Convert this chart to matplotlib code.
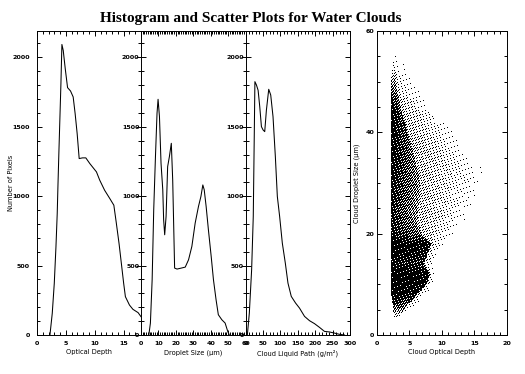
import numpy as np
import matplotlib
matplotlib.use("Agg")
from matplotlib import pyplot as plt
from matplotlib.ticker import MultipleLocator

# histogram of optical depth
tau_x = [2.24, 2.64, 2.99, 3.28, 3.5, 3.62, 3.79, 3.97, 4.14, 4.31, 4.54, 4.89,
         5.29, 5.8, 6.26, 6.6, 6.95, 7.3, 7.87, 8.45, 9.14, 10.29, 10.86, 11.7,
         12.6, 13.3, 13.7, 14.2, 14.6, 15.0, 15.3, 16.0, 16.6, 17.5, 18.0]
tau_n = [0, 156, 372, 635, 875, 1067, 1319, 1571, 1810, 2093, 2050, 1918,
         1782, 1758, 1715, 1595, 1451, 1271, 1276, 1276, 1235, 1175, 1115, 1043,
         983, 935, 815, 659, 516, 372, 276, 216, 185, 161, 132]

# histogram of droplet size (um)
reff_x = [4.5, 5.4, 6.4, 7.3, 8.3, 9.2, 9.8, 10.6, 11.5, 12.5, 13.0, 13.6, 14.4,
          15.3, 16.3, 17.4, 18.2, 19.3, 20.7, 23.1, 25.4, 27.3, 29.2, 31.1, 33.0,
          34.4, 35.5, 36.3, 37.4, 38.7, 40.3, 41.6, 43.1, 44.4, 46.4, 48.3, 49.8, 50.7]
reff_n = [0, 86, 398, 901, 1285, 1597, 1698, 1573, 1237, 1046, 830, 722, 854,
          1213, 1285, 1381, 1117, 482, 475, 482, 489, 542, 638, 806, 926,
          998, 1081, 1046, 926, 758, 566, 398, 254, 146, 110, 86, 26, 0]

# histogram of liquid water path (g/m2)
lwp_x = [5.3, 11, 17.6, 22.3, 25, 27, 31.4, 36.2, 40.9, 45.7, 50.5, 55.2, 60,
         66.7, 72.4, 79, 85.7, 91.4, 98, 105.7, 114.3, 121.9, 131.4, 143.8, 155,
         169.5, 183.8, 198, 212.4, 226.7, 240.9, 255, 269.5, 284]
lwp_n = [0, 158, 470, 854, 1405, 1825, 1801, 1763, 1645, 1501, 1477, 1465, 1620,
         1770, 1729, 1573, 1285, 998, 854, 662, 518, 374, 278, 230, 194,
         134, 103, 82, 55, 26, 22, 14, 5, 0]

# scatter cloud, read at 2 um droplet-size steps:
# left edge, edge of the dense core, far edge of the sparse tail (optical depth),
# fill fraction at the left edge, at the core edge and at the start of the tail
band_y = [3, 4, 6, 8, 10, 12, 14, 16, 18, 20, 22, 24, 26, 28, 30, 32, 34, 36,
          38, 40, 42, 44, 46, 48, 50, 52, 54, 55]
band_left = [2.8, 2.6, 2.4, 2.2, 2.1, 2.1, 2.1, 2.1, 2.1, 2.1, 2.1, 2.1, 2.1,
             2.1, 2.1, 2.1, 2.1, 2.1, 2.1, 2.1, 2.1, 2.1, 2.1, 2.2, 2.2, 2.3,
             2.5, 2.6]
band_core = [3.0, 3.6, 4.8, 6.2, 7.6, 8.1, 7.2, 7.8, 8.3, 6.8, 6.4, 6.2, 6.4,
             6.6, 6.6, 6.4, 6.0, 5.6, 5.1, 4.7, 4.3, 3.8, 3.5, 3.2, 3.0, 2.9,
             2.9, 2.8]
band_outer = [3.6, 4.8, 6.2, 7.6, 8.6, 9.0, 8.6, 9.4, 10.5, 12.0, 13.5, 14.5,
              15.3, 15.8, 16.5, 16.8, 15.5, 14.3, 13.0, 11.8, 10.5, 9.3, 8.3,
              7.0, 5.8, 4.8, 4.2, 3.8]
band_dleft = [0.05, 0.3, 0.8, 0.95, 0.97, 0.97, 0.9, 0.95, 0.97, 0.9, 0.9,
              0.9, 0.9, 0.92, 0.94, 0.95, 0.96, 0.97, 0.97, 0.97, 0.97, 0.97,
              0.92, 0.75, 0.5, 0.25, 0.1, 0.03]
band_dcore = [0.05, 0.2, 0.7, 0.88, 0.92, 0.92, 0.78, 0.88, 0.9, 0.6, 0.5,
              0.45, 0.45, 0.48, 0.5, 0.52, 0.55, 0.6, 0.65, 0.7, 0.72, 0.72,
              0.65, 0.5, 0.35, 0.15, 0.06, 0.02]
band_dtail = [0.02, 0.08, 0.25, 0.25, 0.25, 0.25, 0.25, 0.25, 0.25, 0.28, 0.28,
              0.26, 0.26, 0.26, 0.26, 0.26, 0.28, 0.28, 0.28, 0.28, 0.28, 0.26,
              0.22, 0.18, 0.12, 0.07, 0.03, 0.02]

W, H = 525, 374
plt.rcParams["font.family"] = "DejaVu Sans"
plt.rcParams["font.weight"] = "bold"

fig = plt.figure(figsize=(W / 100, H / 100), dpi=100)


def px_axes(x0, x1, y0, y1):
    return fig.add_axes([x0 / W, 1 - y1 / H, (x1 - x0) / W, (y1 - y0) / H])


def style(ax, ypad):
    ax.tick_params(which="both", direction="in", top=True, right=True,
                   width=0.7, labelsize=4.6)
    ax.tick_params(which="major", length=3.8)
    ax.tick_params(which="minor", length=1.9)
    ax.tick_params(axis="x", pad=4)
    ax.tick_params(axis="y", pad=ypad)
    for s in ax.spines.values():
        s.set_linewidth(0.7)


TOP, BOT = 31, 335
ymax = 2190
hists = [
    (37, 141, tau_x, tau_n, 18, 5, 1, "Optical Depth", 5),
    (141, 245.5, reff_x, reff_n, 60, 10, 1, "Droplet Size (\u03bcm)", 1),
    (245.5, 350, lwp_x, lwp_n, 300, 50, 10, "Cloud Liquid Path (g/m\u00b2)", 1),
]
for x0, x1, xs, ys, xmax, maj, mnr, lab, ypad in hists:
    ax = px_axes(x0, x1, TOP, BOT)
    ax.plot(xs, ys, color="k", lw=0.75)
    ax.set_xlim(0, xmax)
    ax.set_ylim(0, ymax)
    ax.xaxis.set_major_locator(MultipleLocator(maj))
    ax.xaxis.set_minor_locator(MultipleLocator(mnr))
    ax.yaxis.set_major_locator(MultipleLocator(500))
    ax.yaxis.set_minor_locator(MultipleLocator(100))
    style(ax, ypad)
    ax.set_xlabel(lab, fontsize=4.8)
    ax.xaxis.set_label_coords(0.5, -0.047)
    if x0 == 37:
        ax.set_ylabel("Number of Pixels", fontsize=4.8)
        ax.yaxis.set_label_coords(-0.22, 0.5)

# scatter plot: one point per screen pixel where the local fill fraction
# beats an interleaved-gradient-noise dither threshold
ax = px_axes(376.7, 507, TOP, BOT)
ax.set_xlim(0, 20)
ax.set_ylim(0, 60)
bb = ax.get_window_extent()
cols = np.arange(int(bb.width) - 1)
rows = np.arange(int(bb.height) - 1)
inv = ax.transData.inverted()
xc = inv.transform(np.column_stack([np.ceil(bb.x0) + cols + 0.3,
                                    np.full(cols.size, bb.y0 + 1)]))[:, 0]
yc = inv.transform(np.column_stack([np.full(rows.size, bb.x0 + 1),
                                    np.floor(bb.y0) + 1 + rows + 0.3]))[:, 1]
sx, sy = [], []
for r in rows:
    y = yc[r]
    if y < band_y[0] or y > band_y[-1]:
        continue
    L = np.interp(y, band_y, band_left)
    C = np.interp(y, band_y, band_core)
    O = np.interp(y, band_y, band_outer)
    dl = np.interp(y, band_y, band_dleft)
    dc = np.interp(y, band_y, band_dcore)
    dt = np.interp(y, band_y, band_dtail)
    fill = np.zeros(cols.size)
    core = (xc >= L) & (xc <= C)
    fill[core] = dl + (dc - dl) * (xc[core] - L) / (C - L)
    tail = (xc > C) & (xc <= O)
    fill[tail] = dt * (1 - (xc[tail] - C) / (O - C))
    thresh = (52.9829189 * ((0.06711056 * cols + 0.00583715 * r) % 1)) % 1
    keep = fill > thresh
    sx.append(xc[keep])
    sy.append(np.full(keep.sum(), y))
ax.plot(np.concatenate(sx), np.concatenate(sy), ",", color="k")
ax.xaxis.set_major_locator(MultipleLocator(5))
ax.xaxis.set_minor_locator(MultipleLocator(1))
ax.yaxis.set_major_locator(MultipleLocator(20))
ax.yaxis.set_minor_locator(MultipleLocator(5))
style(ax, 1.5)
ax.set_xlabel("Cloud Optical Depth", fontsize=4.8)
ax.xaxis.set_label_coords(0.5, -0.047)
ax.set_ylabel("Cloud Droplet Size (\u03bcm)", fontsize=4.8)
ax.yaxis.set_label_coords(-0.128, 0.5)

fig.text(251 / W, 1 - 21.7 / H, "Histogram and Scatter Plots for Water Clouds",
         ha="center", va="baseline", fontsize=11,
         family="Liberation Serif", weight="bold")

fig.savefig("out.png", dpi=100)
